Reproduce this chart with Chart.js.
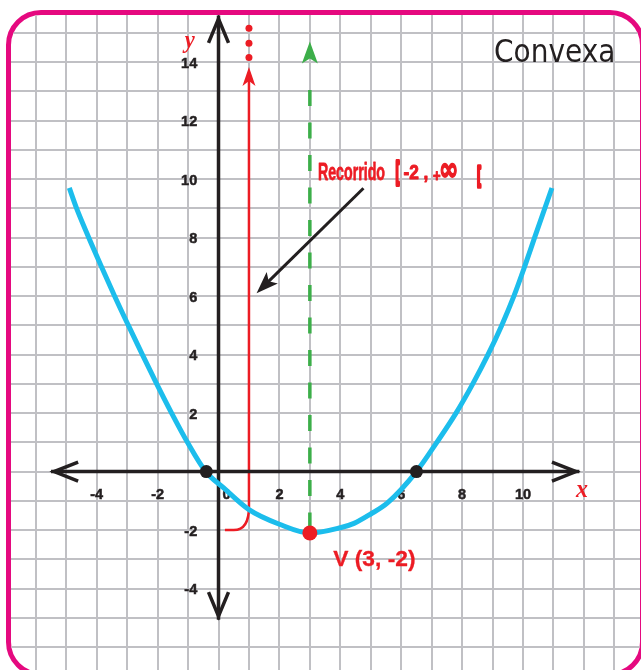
<!DOCTYPE html>
<html>
<head>
<meta charset="utf-8">
<script src="https://cdn.jsdelivr.net/npm/chart.js@4.4.1/dist/chart.umd.min.js"></script>
<style>
  html, body { margin: 0; padding: 0; background: #fff; }
  body { width: 641px; height: 670px; position: relative; overflow: hidden; }
  #frame {
    position: absolute; left: 6px; top: 10px; width: 639px; height: 667px;
    box-sizing: border-box; border: 5px solid #e5097f; border-radius: 35px;
    overflow: hidden; background: #fff;
  }
  #wrap { position: absolute; left: -11px; top: -15px; width: 641px; height: 670px; }
</style>
</head>
<body>
<div id="frame"><div id="wrap"><canvas id="chart" width="641" height="670"></canvas></div></div>
<script>
// parabola
const curveX = [-4.9, -4.66, -4.26, -3.84, -3.41, -2.96, -2.5, -2.03, -1.54, -1.02, -0.42, 0.16, 1.0, 2.0, 3.0, 4.0, 4.45, 5.0, 5.54, 6.5, 7.17, 7.8, 8.35, 8.85, 9.3, 9.7, 10.05, 10.38, 10.95];
const curveY = [9.7, 9.0, 8.0, 7.0, 6.0, 5.0, 4.0, 3.0, 2.0, 1.0, 0.0, -0.55, -1.3, -1.8, -2.1, -1.92, -1.77, -1.45, -1.08, 0.0, 1.0, 2.0, 3.0, 4.0, 5.0, 6.0, 7.0, 8.0, 9.7];

// roots and vertex
const rootX = [-0.4, 6.5];
const rootY = [0, 0];
const vertexX = [3];
const vertexY = [-2.1];

// axis of symmetry (green) and range line (red)
const symX = 3;
const symY = [13.05, -2.1];
const symTipY = 14.71;
const rangeX = 1;
const rangeMinY = -2;
const rangeTopY = 13.84;
const dotsY = [15.16, 14.65, 14.16];

// tick labels
const xTickLabels = [-4, -2, 0, 2, 4, 6, 8, 10];
const yTickLabels = [-4, -2, 2, 4, 6, 8, 10, 12, 14];

// visible window
const X_MIN = -7.176, X_MAX = 13.875;
const Y_MIN = -6.785, Y_MAX = 16.128;

const RED = '#ec1c24';
const GREEN = '#3cae49';
const BLUE = '#1cbdec';
const INK = '#231f20';
const GRID = '#c0c0c4';

function pts(xs, ys) {
  return xs.map((v, i) => ({ x: v, y: ys[i] }));
}

function barb(ctx, tx, ty, ang, len, half, notch, color) {
  ctx.save();
  ctx.translate(tx, ty);
  ctx.rotate(ang);
  ctx.beginPath();
  ctx.moveTo(0, 0);
  ctx.lineTo(-len, -half);
  ctx.lineTo(-len + notch, 0);
  ctx.lineTo(-len, half);
  ctx.closePath();
  ctx.fillStyle = color;
  ctx.fill();
  ctx.restore();
}

function chevron(ctx, tx, ty, ang, len, half) {
  ctx.save();
  ctx.translate(tx, ty);
  ctx.rotate(ang);
  ctx.beginPath();
  ctx.moveTo(-len, -half);
  ctx.lineTo(-4, 0);
  ctx.lineTo(-len, half);
  ctx.stroke();
  ctx.restore();
}

// draw text so that its ink fills the box x0..x1, y0..y1 (sw: extra stroke weight)
function fitText(ctx, str, font, x0, y0, x1, y1, sw) {
  sw = sw || 0;
  x0 += sw / 2; x1 -= sw / 2; y0 += sw / 2; y1 -= sw / 2;
  ctx.save();
  ctx.font = font;
  ctx.textAlign = 'left';
  ctx.textBaseline = 'alphabetic';
  const m = ctx.measureText(str);
  const w = m.actualBoundingBoxLeft + m.actualBoundingBoxRight;
  const h = m.actualBoundingBoxAscent + m.actualBoundingBoxDescent;
  const sx = (x1 - x0) / w, sy = (y1 - y0) / h;
  ctx.translate(x0 + m.actualBoundingBoxLeft * sx, y0 + m.actualBoundingBoxAscent * sy);
  ctx.scale(sx, sy);
  ctx.fillText(str, 0, 0);
  if (sw) {
    ctx.strokeStyle = ctx.fillStyle;
    ctx.lineJoin = 'round';
    ctx.lineWidth = sw / Math.sqrt(sx * sy);
    ctx.strokeText(str, 0, 0);
  }
  ctx.restore();
}

const decor = {
  id: 'decor',
  beforeDatasetsDraw(chart) {
    const { ctx, scales: { x, y } } = chart;
    const px = v => x.getPixelForValue(v);
    const py = v => y.getPixelForValue(v);
    ctx.save();

    // red range line with its curl at y = -2
    ctx.strokeStyle = RED;
    ctx.lineWidth = 2.5;
    ctx.beginPath();
    ctx.moveTo(px(0.21), py(rangeMinY));
    ctx.lineTo(px(0.5), py(rangeMinY));
    ctx.quadraticCurveTo(px(rangeX), py(rangeMinY), px(rangeX), py(-1.2));
    ctx.lineTo(px(rangeX), py(rangeTopY) + 12);
    ctx.stroke();

    // axes
    ctx.strokeStyle = INK;
    ctx.lineWidth = 3.5;
    ctx.lineJoin = 'miter';
    ctx.beginPath();
    ctx.moveTo(px(-5.5), py(0));
    ctx.lineTo(px(11.85), py(0));
    ctx.moveTo(px(0), py(15.6));
    ctx.lineTo(px(0), py(-5.07));
    ctx.stroke();
    chevron(ctx, px(11.87), py(0), 0, 28, 9.5);
    chevron(ctx, px(-5.53), py(0), Math.PI, 28, 9.5);
    chevron(ctx, px(0), py(15.62), -Math.PI / 2, 28, 10);
    chevron(ctx, px(0), py(-5.08), Math.PI / 2, 28, 10);
    ctx.restore();
  },
  afterDatasetsDraw(chart) {
    const { ctx, scales: { x, y } } = chart;
    const px = v => x.getPixelForValue(v);
    const py = v => y.getPixelForValue(v);
    ctx.save();

    barb(ctx, px(rangeX), py(rangeTopY), -Math.PI / 2, 19, 6.5, 5, RED);
    barb(ctx, px(symX), py(symTipY), -Math.PI / 2, 22, 8, 5, GREEN);

    // pointer arrow to the range line
    const sx = px(4.76), sy = py(9.69), tx = px(1.25), ty = py(6.1);
    const ang = Math.atan2(ty - sy, tx - sx);
    ctx.strokeStyle = INK;
    ctx.lineWidth = 3;
    ctx.beginPath();
    ctx.moveTo(sx, sy);
    ctx.lineTo(tx - 14 * Math.cos(ang), ty - 14 * Math.sin(ang));
    ctx.stroke();
    barb(ctx, tx, ty, ang, 22, 8, 5, INK);

    // texts
    ctx.fillStyle = INK;
    fitText(ctx, 'Convexa', '30px "DejaVu Sans"', 495, 38.3, 613.3, 62);

    ctx.fillStyle = RED;
    const cond = 'bold 22px "Liberation Sans"';
    fitText(ctx, 'Recorrido', cond, 318.3, 163, 385, 180.7, 0.6);
    fitText(ctx, '[', cond, 395, 160, 401, 187, 2.6);
    fitText(ctx, '-2 ,', cond, 403, 165, 428, 183, 0.9);
    fitText(ctx, '+', cond, 432.5, 170, 440.5, 180, 0.9);
    fitText(ctx, '\u221E', 'bold 26px "DejaVu Sans"', 440, 162, 457.5, 178.5, 1.4);
    fitText(ctx, '[', cond, 476.5, 165, 482.5, 188.3, 2.6);

    fitText(ctx, 'V (3, -2)', 'bold 23px "Liberation Sans"', 333, 548, 415, 570.5, 0.3);
    fitText(ctx, 'y', 'italic bold 25px "Liberation Serif"', 182, 36, 195.5, 53);
    fitText(ctx, 'x', 'italic bold 25px "Liberation Serif"', 575, 485, 587.5, 497);
    ctx.restore();
  }
};

const tickFont = { family: '"Liberation Sans", Arial, sans-serif', size: 14.5, weight: 'bold', lineHeight: 0 };

new Chart(document.getElementById('chart'), {
  type: 'scatter',
  data: {
    datasets: [
      {
        label: 'roots',
        data: pts(rootX, rootY),
        pointRadius: 6.5,
        pointBackgroundColor: INK,
        pointBorderWidth: 0,
        showLine: false,
        order: 0
      },
      {
        label: 'vertex',
        data: pts(vertexX, vertexY),
        pointRadius: 7.5,
        pointBackgroundColor: RED,
        pointBorderWidth: 0,
        showLine: false,
        order: 0
      },
      {
        label: 'dots',
        data: pts(dotsY.map(() => rangeX), dotsY),
        pointRadius: 3.5,
        pointBackgroundColor: RED,
        pointBorderWidth: 0,
        showLine: false,
        order: 0
      },
      {
        label: 'parabola',
        data: pts(curveX, curveY),
        showLine: true,
        borderColor: BLUE,
        borderWidth: 5,
        pointRadius: 0,
        cubicInterpolationMode: 'monotone',
        order: 1
      },
      {
        label: 'symmetry',
        data: pts(symY.map(() => symX), symY),
        showLine: true,
        borderColor: GREEN,
        borderWidth: 3.5,
        borderDash: [16, 16.5],
        pointRadius: 0,
        order: 2
      }
    ]
  },
  options: {
    responsive: false,
    animation: false,
    events: [],
    layout: { padding: 0, autoPadding: false },
    plugins: { legend: { display: false }, tooltip: { enabled: false } },
    scales: {
      x: {
        type: 'linear',
        min: X_MIN,
        max: X_MAX,
        position: { y: -0.807 },
        border: { display: false },
        grid: { color: GRID, lineWidth: 2, drawTicks: false, z: -1 },
        ticks: {
          stepSize: 1,
          includeBounds: false,
          autoSkip: false,
          maxRotation: 0,
          padding: 0,
          color: INK,
          textStrokeColor: INK,
          textStrokeWidth: 0.5,
          font: tickFont,
          callback: v => xTickLabels.includes(v) ? (v === 0 ? '    0' : String(v)) : ''
        }
      },
      y: {
        type: 'linear',
        min: Y_MIN,
        max: Y_MAX,
        position: { x: -0.7 },
        border: { display: false },
        grid: { color: GRID, lineWidth: 2, drawTicks: false, z: -1 },
        ticks: {
          stepSize: 1,
          includeBounds: false,
          autoSkip: false,
          padding: 0,
          labelOffset: 1.5,
          color: INK,
          textStrokeColor: INK,
          textStrokeWidth: 0.5,
          font: tickFont,
          callback: v => yTickLabels.includes(v) ? String(v) : ''
        }
      }
    }
  },
  plugins: [decor]
});
</script>
</body>
</html>
